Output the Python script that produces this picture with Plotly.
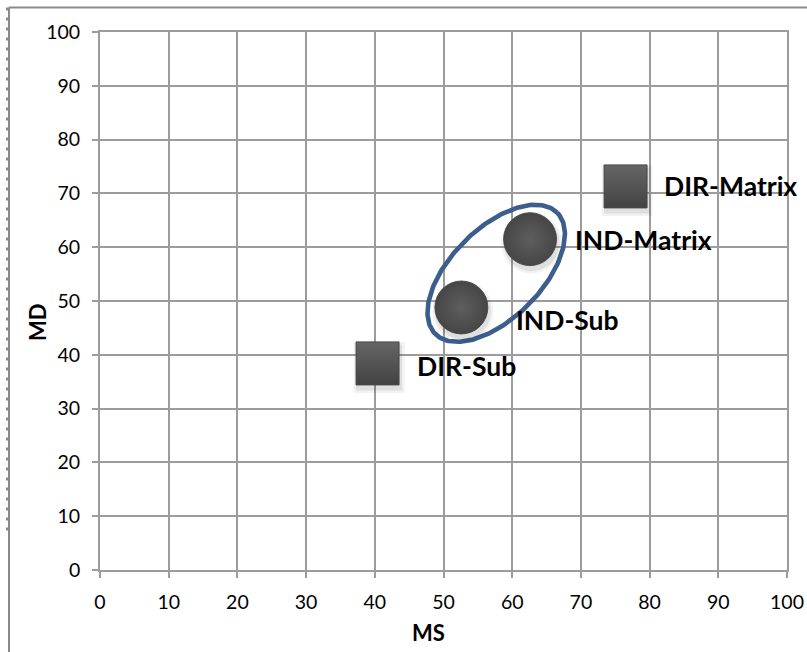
import numpy as np
import plotly.graph_objects as go

# Points: direct (square) and indirect (circle) variants
dir_names = ["DIR-Sub", "DIR-Matrix"]
dir_ms = [40.4, 76.5]
dir_md = [38.4, 71.3]

ind_names = ["IND-Sub", "IND-Matrix"]
ind_ms = [52.6, 62.6]
ind_md = [48.8, 61.5]

tick_vals = list(range(0, 101, 10))

# Page geometry
W, H = 807, 652
ML, MR, MT, MB = 100, 20, 32, 82
plot_w = W - ML - MR
plot_h = H - MT - MB
px_x = plot_w / 100.0
px_y = plot_h / 100.0

grid_col = "#9c9c9c"
font_family = "Lato, 'Noto Sans', sans-serif"

fig = go.Figure()

# Ellipse grouping the two indirect points (semi-axes in pixels)
a_px, b_px = 86.0, 45.0
cx, cy = np.mean(ind_ms), np.mean(ind_md)
theta = np.arctan2((ind_md[1] - ind_md[0]) * px_y, (ind_ms[1] - ind_ms[0]) * px_x)
t = np.linspace(0, 2 * np.pi, 240)
ox = a_px * np.cos(t) * np.cos(theta) - b_px * np.sin(t) * np.sin(theta)
oy = a_px * np.cos(t) * np.sin(theta) + b_px * np.sin(t) * np.cos(theta)
fig.add_trace(go.Scatter(
    x=cx + ox / px_x + 0.5 / px_x, y=cy + oy / px_y, mode="lines",
    line=dict(color="#3b5e8c", width=4.6), hoverinfo="skip", showlegend=False,
))

# Soft drop shadows under the markers (two faint layers)
for grow, alpha in ((8, 0.05), (3, 0.08)):
    sh_dx, sh_dy = 1.5 / px_x, -4.0 / px_y
    fig.add_trace(go.Scatter(
        x=[v + sh_dx for v in dir_ms], y=[v + sh_dy for v in dir_md], mode="markers",
        marker=dict(symbol="square", size=43 + grow, color=f"rgba(0,0,0,{alpha})", line=dict(width=0)),
        hoverinfo="skip", showlegend=False,
    ))
    fig.add_trace(go.Scatter(
        x=[v + sh_dx for v in ind_ms], y=[v + sh_dy for v in ind_md], mode="markers",
        marker=dict(symbol="circle", size=53 + grow, color=f"rgba(0,0,0,{alpha})", line=dict(width=0)),
        hoverinfo="skip", showlegend=False,
    ))

fig.add_trace(go.Scatter(
    x=dir_ms, y=dir_md, mode="markers", name="DIR",
    marker=dict(symbol="square", size=43, color="#666666",
                gradient=dict(type="vertical", color="#424242"),
                line=dict(color="#474747", width=1)),
    showlegend=False,
))
fig.add_trace(go.Scatter(
    x=ind_ms, y=ind_md, mode="markers", name="IND",
    marker=dict(symbol="circle", size=53, color="#464646",
                gradient=dict(type="radial", color="#5e5e5e"),
                line=dict(color="#404040", width=0.8)),
    showlegend=False,
))

# Data labels
label_offsets = {
    "DIR-Sub": (37, -3),
    "DIR-Matrix": (36, 0),
    "IND-Sub": (53, -13),
    "IND-Matrix": (43, -1),
}
for names, xs, ys in ((dir_names, dir_ms, dir_md), (ind_names, ind_ms, ind_md)):
    for n, xv, yv in zip(names, xs, ys):
        dx, dy = label_offsets[n]
        fig.add_annotation(
            x=xv, y=yv, text=n, showarrow=False, xanchor="left", yanchor="middle",
            xshift=dx, yshift=dy,
            font=dict(family=font_family, size=26.5, color="#000000", weight="bold"),
        )

# Axis titles
fig.add_annotation(
    x=(428 - ML) / plot_w, y=-(632 - MT - plot_h) / plot_h, xref="paper", yref="paper",
    text="MS", showarrow=False, xanchor="center", yanchor="middle",
    font=dict(family=font_family, size=22, color="#000000", weight="bold"),
)
fig.add_annotation(
    x=-(ML - 37) / plot_w, y=1 - (322 - MT) / plot_h, xref="paper", yref="paper",
    text="MD", showarrow=False, xanchor="center", yanchor="middle", textangle=-90,
    font=dict(family=font_family, size=22, color="#000000", weight="bold"),
)

# Outer frame: top edge and beaded left edge
fx0 = (9 - ML) / plot_w
fy_top = 1 + (MT - 7.5) / plot_h
fy_bot = -(H - MT - plot_h) / plot_h
fy_bead = 1 - (532 - MT) / plot_h
frame_col = "#8a8a8a"
fig.add_shape(type="line", xref="paper", yref="paper", x0=fx0, x1=(W - ML) / plot_w,
              y0=fy_top, y1=fy_top, line=dict(color=frame_col, width=2))
fig.add_shape(type="line", xref="paper", yref="paper", x0=fx0, x1=fx0,
              y0=fy_top, y1=fy_bot, line=dict(color=frame_col, width=2))
fig.add_shape(type="line", xref="paper", yref="paper", x0=fx0 - 1.2 / plot_w, x1=fx0 - 1.2 / plot_w,
              y0=fy_top, y1=fy_bead, line=dict(color=frame_col, width=3.5, dash="3px,7px"))

axis_common = dict(
    range=[0, 100], tickvals=tick_vals, showgrid=True, gridcolor=grid_col, gridwidth=1.8,
    zeroline=False, showline=True, linecolor=grid_col, linewidth=1.8,
    ticks="outside", ticklen=6, tickwidth=1.8, tickcolor=grid_col, automargin=False,
    tickfont=dict(family=font_family, size=19.5, color="#000000"), fixedrange=True,
)
fig.update_xaxes(**axis_common, ticklabelstandoff=8, mirror=True)
fig.update_yaxes(**axis_common, ticklabelstandoff=8, mirror=True)

fig.update_layout(
    width=W, height=H, margin=dict(l=ML, r=MR, t=MT, b=MB, autoexpand=False),
    paper_bgcolor="white", plot_bgcolor="white", showlegend=False,
)

fig.write_html("out.html")
